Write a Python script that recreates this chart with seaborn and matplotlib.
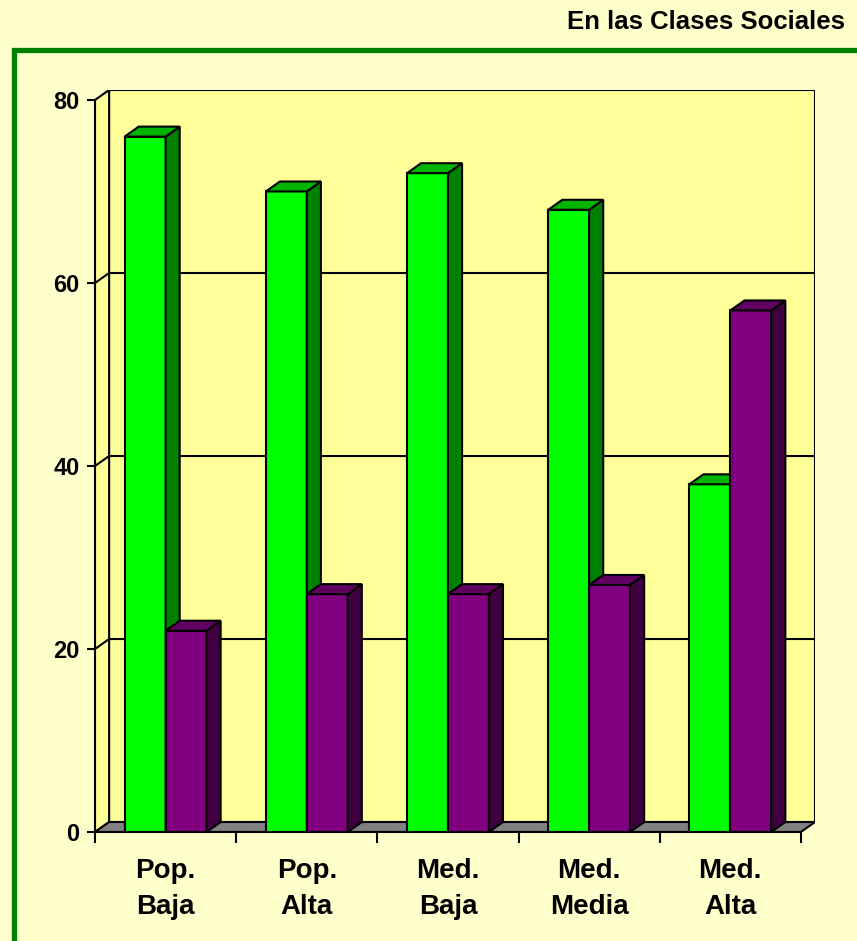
import matplotlib.pyplot as plt
import numpy as np
import pandas as pd
import seaborn as sns
from matplotlib.colors import to_hex
from matplotlib.patches import Polygon, Rectangle

TITLE = "En las Clases Sociales"
CATEGORIES = ["Pop.\nBaja", "Pop.\nAlta", "Med.\nBaja", "Med.\nMedia", "Med.\nAlta"]
SERIES = ["Serie 1", "Serie 2"]
SERIE_1 = [76, 70, 72, 68, 38]
SERIE_2 = [22, 26, 26, 27, 57]
Y_TICKS = [0, 20, 40, 60, 80]

FRONT = {"Serie 1": "#00ff00", "Serie 2": "#800080"}
SIDE = {"#00ff00": "#008000", "#800080": "#400040"}
TOP = {"#00ff00": "#00b400", "#800080": "#600060"}

DX, DY = 0.1, 1.09  # depth of the fake 3d box, in data units
LW = 1.5

sns.set_theme(style="white")
plt.rcParams["font.family"] = ["Liberation Sans", "DejaVu Sans"]
plt.rcParams["font.weight"] = "bold"
plt.rcParams["text.color"] = "black"
plt.rcParams["xtick.color"] = "black"
plt.rcParams["ytick.color"] = "black"

df = pd.DataFrame({
    "cat": CATEGORIES * 2,
    "serie": [SERIES[0]] * 5 + [SERIES[1]] * 5,
    "valor": SERIE_1 + SERIE_2,
})

fig = plt.figure(figsize=(8.57, 9.41), dpi=100, facecolor="#ffffcc")
ax = fig.add_axes([95 / 857, 1 - 832 / 941, 720 / 857, 742 / 941])
ax.set_facecolor("none")

sns.barplot(data=df, x="cat", y="valor", hue="serie", order=CATEGORIES,
            hue_order=SERIES, palette=FRONT, saturation=1, width=0.58,
            edgecolor="black", linewidth=LW, legend=False, ax=ax)

x0, x1, ytop = -0.5, 4.5, Y_TICKS[-1]

# walls and floor
ax.add_patch(Polygon([(x0 + DX, DY), (x1 + DX, DY), (x1 + DX, ytop + DY), (x0 + DX, ytop + DY)],
                     closed=True, facecolor="#ffff99", edgecolor="black", lw=LW, zorder=0.5))
ax.add_patch(Polygon([(x0, 0), (x0 + DX, DY), (x0 + DX, ytop + DY), (x0, ytop)],
                     closed=True, facecolor="#ffff99", edgecolor="black", lw=LW, zorder=0.6))
ax.add_patch(Polygon([(x0, 0), (x1, 0), (x1 + DX, DY), (x0 + DX, DY)],
                     closed=True, facecolor="#808080", edgecolor="black", lw=LW, zorder=0.7))
for v in Y_TICKS[1:-1]:
    ax.plot([x0, x0 + DX, x1 + DX], [v, v + DY, v + DY], color="black", lw=LW, zorder=0.8)

# 3d tops and sides of the bars
bars = sorted([p for p in ax.patches if isinstance(p, Rectangle) and p.get_width() > 0
               and p.get_zorder() > 0.9], key=lambda p: p.get_x())
for i, p in enumerate(bars):
    x, w, h = p.get_x(), p.get_width(), p.get_height()
    col = to_hex(p.get_facecolor())
    z = 3 + i * 0.1
    p.set_zorder(z)
    ax.add_patch(Polygon([(x + w, 0), (x + w + DX, DY), (x + w + DX, h + DY), (x + w, h)],
                         closed=True, facecolor=SIDE[col], edgecolor="black", lw=LW, zorder=z))
    ax.add_patch(Polygon([(x, h), (x + w, h), (x + w + DX, h + DY), (x + DX, h + DY)],
                         closed=True, facecolor=TOP[col], edgecolor="black", lw=LW, zorder=z))

ax.set_xlim(x0, x1 + DX)
ax.set_ylim(0, ytop + DY)
for s in ["top", "right"]:
    ax.spines[s].set_visible(False)
ax.spines["left"].set_bounds(0, ytop)
ax.spines["bottom"].set_bounds(x0, x1)
for s in ["left", "bottom"]:
    ax.spines[s].set_color("black")
    ax.spines[s].set_linewidth(LW)
    ax.spines[s].set_zorder(2)

ax.set_yticks(Y_TICKS)
ax.set_xticks(range(len(CATEGORIES)), CATEGORIES)
ax.set_xticks(np.arange(x0, x1 + 0.5, 1), minor=True)
ax.tick_params(axis="y", left=True, length=6, width=LW, color="black", pad=5, labelsize=17)
ax.tick_params(axis="x", which="major", length=0, pad=19, labelsize=20)
ax.tick_params(axis="x", which="minor", bottom=True, length=8, width=LW, color="black")
for t in ax.get_xticklabels():
    t.set_linespacing(1.5)
ax.set_xlabel("")
ax.set_ylabel("")

fig.text(845 / 857, 1 - 22 / 941, TITLE, ha="right", va="center", fontsize=18.5, fontweight="bold")
fig.patches.append(Rectangle((14 / 857, -2 / 941), 1.0, (941 - 48) / 941, transform=fig.transFigure,
                             fill=False, edgecolor="#008000", lw=3.8, zorder=0))

fig.savefig("out.png", dpi=100, facecolor=fig.get_facecolor())
